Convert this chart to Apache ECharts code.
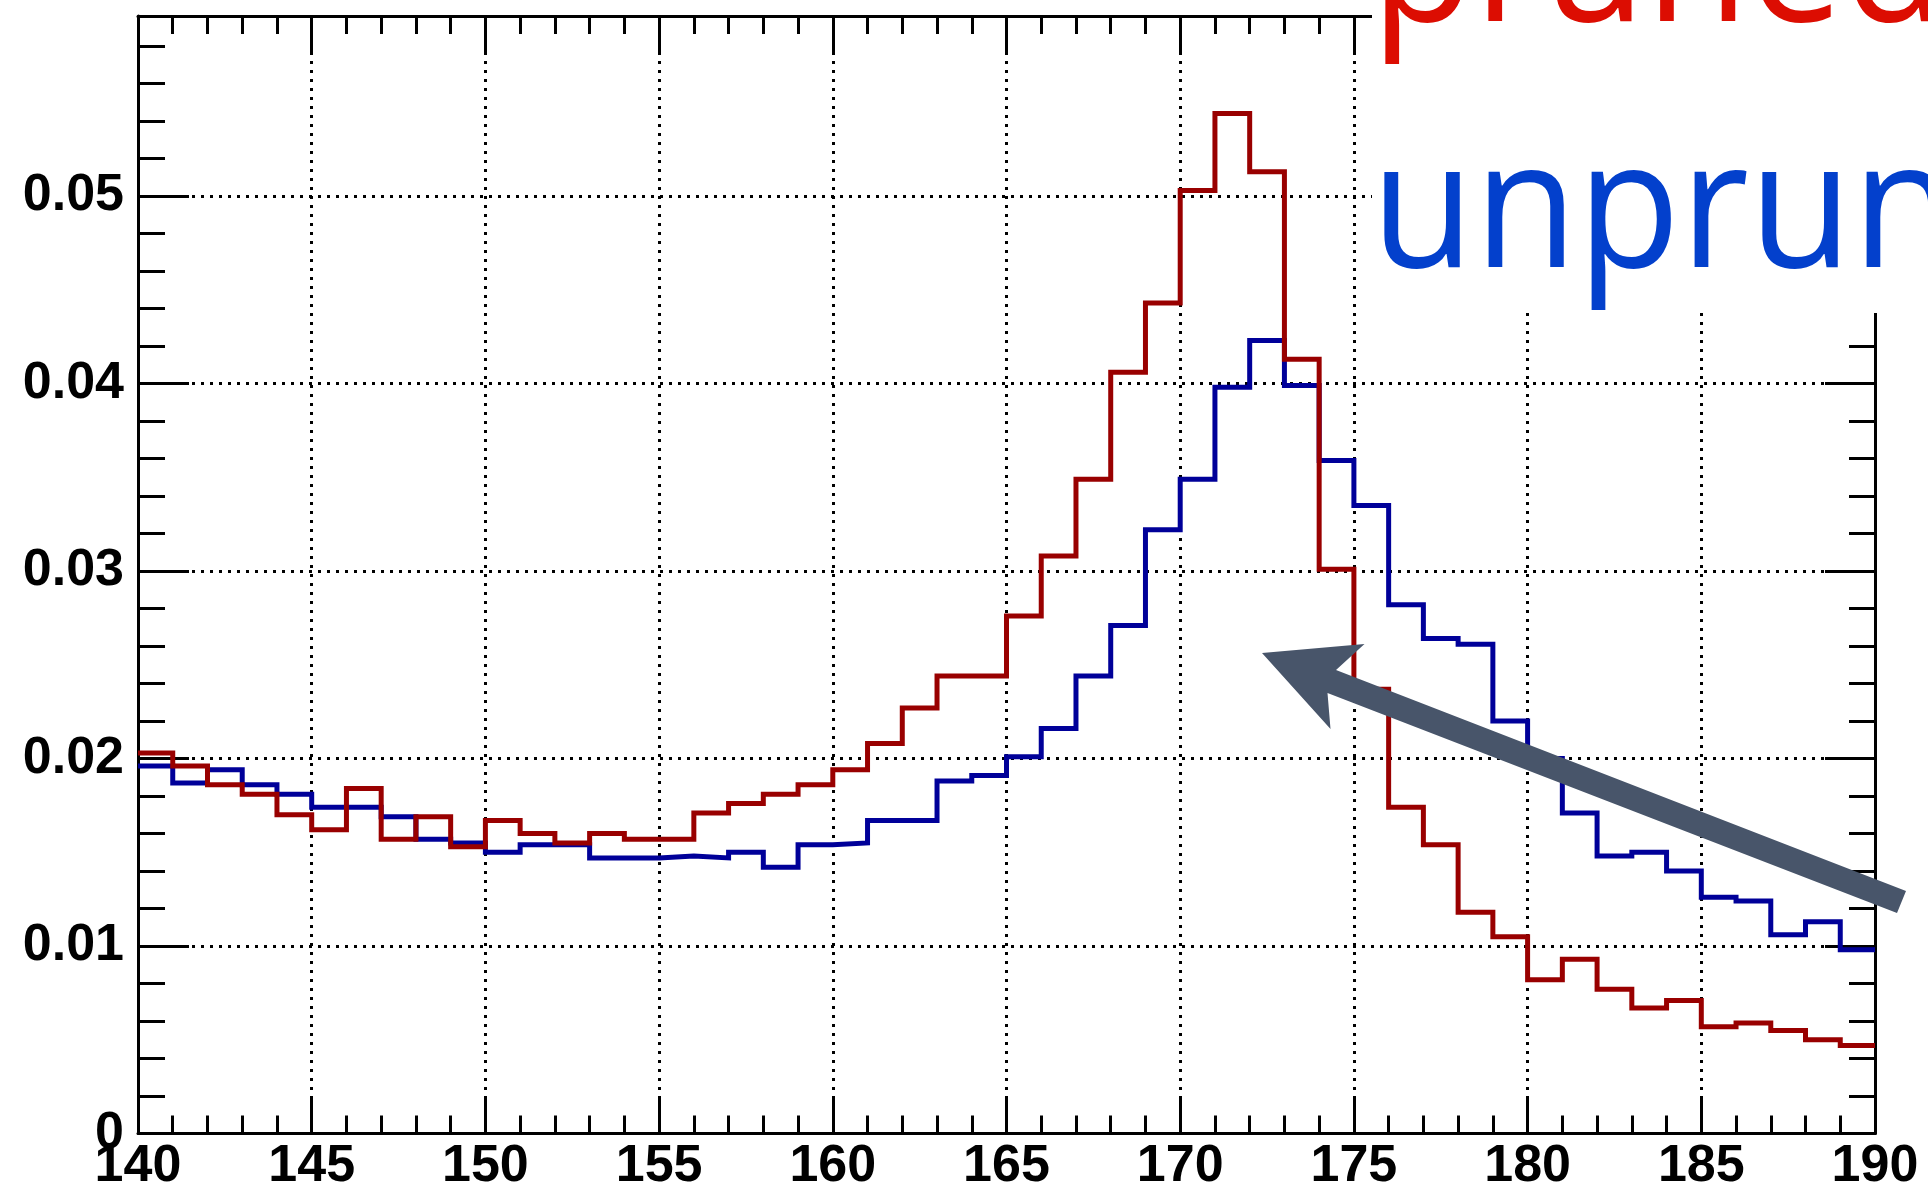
<!DOCTYPE html>
<html>
<head>
<meta charset="utf-8">
<title>Jet mass: pruned vs unpruned</title>
<script src="https://cdn.jsdelivr.net/npm/echarts@6.0.0/dist/echarts.min.js"></script>
<style>
  html, body { margin: 0; padding: 0; background: #ffffff; }
  #chart { width: 1928px; height: 1194px; }
</style>
</head>
<body>
<div id="chart"></div>
<script>
// Histogram binning (1 GeV bins from 140 to 190)
const binStart = 140;
const binWidth = 1;

// Normalised bin contents, one entry per bin starting at 140
const prunedMass = [
  0.0203, 0.0196, 0.0186, 0.0181, 0.0170, 0.0162, 0.0184, 0.0157, 0.0169, 0.0153,
  0.0167, 0.0160, 0.0155, 0.0160, 0.0157, 0.0157, 0.0171, 0.0176, 0.0181, 0.0186,
  0.0194, 0.0208, 0.0227, 0.0244, 0.0244, 0.0276, 0.0308, 0.0349, 0.0406, 0.0443,
  0.0503, 0.0544, 0.0513, 0.0413, 0.0301, 0.0237, 0.0174, 0.0154, 0.0118, 0.0105,
  0.0082, 0.0093, 0.0077, 0.0067, 0.0071, 0.0057, 0.0059, 0.0055, 0.0050, 0.0047
];
const unprunedMass = [
  0.0196, 0.0187, 0.0194, 0.0186, 0.0181, 0.0174, 0.0174, 0.0169, 0.0157, 0.0155,
  0.0150, 0.0154, 0.0154, 0.0147, 0.0147, 0.0148, 0.0147, 0.0150, 0.0142, 0.0154,
  0.0155, 0.0167, 0.0167, 0.0188, 0.0191, 0.0201, 0.0216, 0.0244, 0.0271, 0.0322,
  0.0349, 0.0398, 0.0423, 0.0399, 0.0359, 0.0335, 0.0282, 0.0264, 0.0261, 0.0220,
  0.0200, 0.0171, 0.0148, 0.0150, 0.0140, 0.0126, 0.0124, 0.0106, 0.0113, 0.0098
];

// Axis ranges and tick spacing
const xRange = [140, 190];
const xMajorStep = 5;
const yRange = [0, 0.0596];
const yMajorStep = 0.01;
const yMinorStep = 0.002;

// Legend words
const prunedLabel = 'pruned';
const unprunedLabel = 'unpruned';

// Step-line points: each bin's low edge plus the closing upper edge
function histPoints(values) {
  const pts = values.map((v, i) => [binStart + i * binWidth, v]);
  pts.push([binStart + values.length * binWidth, values[values.length - 1]]);
  return pts;
}

const black = '#000000';
const labelFont = { fontFamily: '"Liberation Sans", Arial, sans-serif', fontWeight: 'bold', fontSize: 52, color: black };
const dotted = { type: [3, 6], color: black, width: 3 };

function xAxisDef(position, majorLen, minorLen, main) {
  return {
    type: 'value', position: position, min: xRange[0], max: xRange[1], interval: xMajorStep,
    axisLine: { show: true, onZero: false, lineStyle: { color: black, width: 3 } },
    axisTick: { show: true, inside: true, length: majorLen, lineStyle: { color: black, width: 3 } },
    minorTick: { show: true, splitNumber: 5, length: minorLen, lineStyle: { color: black, width: 3 } },
    splitLine: { show: main, lineStyle: dotted },
    minorSplitLine: { show: false },
    axisLabel: main ? Object.assign({ show: true, margin: 7 }, labelFont) : { show: false }
  };
}

function yAxisDef(position, step, tickLen, main, showLine) {
  return {
    type: 'value', position: position, min: yRange[0], max: yRange[1], interval: step,
    axisLine: { show: showLine, onZero: false, lineStyle: { color: black, width: 3 } },
    axisTick: { show: true, inside: true, length: tickLen, lineStyle: { color: black, width: 3 } },
    splitLine: { show: main && position === 'left', lineStyle: dotted },
    axisLabel: (main && position === 'left') ? Object.assign({
      show: true, margin: 14, showMaxLabel: false,
      formatter: v => (v === 0 ? '0' : v.toFixed(2))
    }, labelFont) : { show: false }
  };
}

const chart = echarts.init(document.getElementById('chart'), null, { renderer: 'canvas' });

chart.setOption({
  animation: false,
  backgroundColor: '#ffffff',
  grid: { left: 138, top: 16, right: 53, bottom: 60.5, outerBoundsMode: 'none' },
  xAxis: [
    xAxisDef('bottom', 36, 18, true),
    xAxisDef('top', 39, 18, false)
  ],
  yAxis: [
    yAxisDef('left', yMajorStep, 51, true, true),
    yAxisDef('left', yMinorStep, 27, false, false),
    yAxisDef('right', yMajorStep, 50, true, true),
    yAxisDef('right', yMinorStep, 26, false, false)
  ],
  series: [
    {
      name: unprunedLabel, type: 'line', step: 'end', xAxisIndex: 0, yAxisIndex: 0,
      showSymbol: false, symbol: 'none', z: 3,
      lineStyle: { color: '#000099', width: 5, join: 'miter' },
      data: histPoints(unprunedMass)
    },
    {
      name: prunedLabel, type: 'line', step: 'end', xAxisIndex: 0, yAxisIndex: 0,
      showSymbol: false, symbol: 'none', z: 4,
      lineStyle: { color: '#990000', width: 5, join: 'miter' },
      data: histPoints(prunedMass)
    }
  ],
  graphic: [
    // white text box behind the labels
    { type: 'rect', z: 100, shape: { x: 1372, y: 0, width: 556, height: 313 }, style: { fill: '#ffffff' } },
    {
      type: 'text', z: 101, x: 1371, y: -30, scaleX: 0.945,
      style: { text: prunedLabel, fontFamily: '"Open Sans", sans-serif', fontSize: 178, fill: '#dc0d02', verticalAlign: 'middle', align: 'left' }
    },
    {
      type: 'text', z: 101, x: 1371, y: 216, scaleX: 0.945,
      style: { text: unprunedLabel, fontFamily: '"Open Sans", sans-serif', fontSize: 178, fill: '#0340cc', verticalAlign: 'middle', align: 'left' }
    },
    // arrow pointing from the unpruned tail towards the pruned peak
    {
      type: 'polygon', z: 102,
      shape: { points: [[1262, 653], [1364.5, 644], [1336, 670], [1906, 891], [1897, 913], [1327.5, 693], [1330.5, 729]] },
      style: { fill: '#48556a' }
    }
  ]
});
</script>
</body>
</html>
